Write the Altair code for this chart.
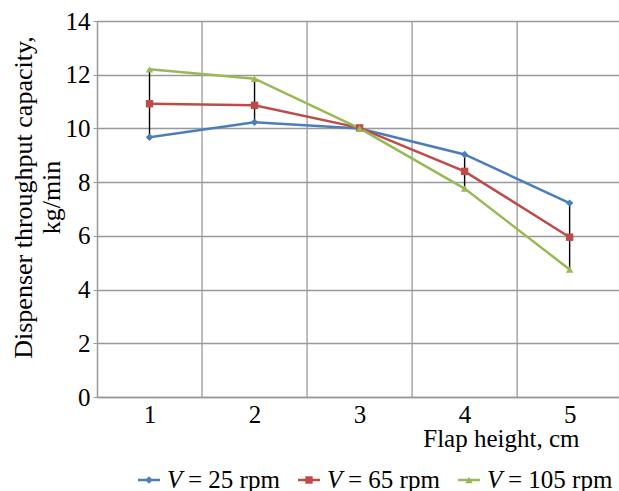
import altair as alt
import pandas as pd

heights = [1, 2, 3, 4, 5]
series = ["V = 25 rpm", "V = 65 rpm", "V = 105 rpm"]
legend_var = ["V", "V", "V"]
legend_rest = ["= 25 rpm", "= 65 rpm", "= 105 rpm"]
v25 = [9.67, 10.23, 10.0, 9.03, 7.22]
v65 = [10.92, 10.86, 10.02, 8.40, 5.95]
v105 = [12.2, 11.85, 10.0, 7.76, 4.75]
colors = ["#4A7EBB", "#BE4B48", "#98B954"]
shapes = ["diamond", "square", "triangle-up"]
y_ticks = [0, 2, 4, 6, 8, 10, 12, 14]
grid_x = [1.5, 2.5, 3.5, 4.5]

rows = []
for s, vals in zip(series, [v25, v65, v105]):
    for h, v in zip(heights, vals):
        rows.append({"h": h, "val": v, "series": s})
df = pd.DataFrame(rows)
rng = pd.DataFrame({
    "h": heights,
    "lo": [min(t) for t in zip(v25, v65, v105)],
    "hi": [max(t) for t in zip(v25, v65, v105)],
})
gdf = pd.DataFrame({"g": grid_x})
ldf = pd.DataFrame({"series": series, "v": legend_var, "rest": legend_rest})

FONT = "Liberation Serif"
xs = alt.Scale(domain=[0.5, 5.47], nice=False, zero=False)
ys = alt.Scale(domain=[0, 14], nice=False)
cscale = alt.Scale(domain=series, range=colors)
sscale = alt.Scale(domain=series, range=shapes)

x_axis = alt.Axis(
    values=heights, format="d", grid=False, title="Flap height, cm",
    labelPadding=5, tickSize=0,
    titleAnchor="end", titleAlign="right", titleX=482, titleY=29,
)
y_axis = alt.Axis(
    values=y_ticks, format="d", grid=True,
    title=["Dispenser throughput capacity,", "kg/min"],
    tickSize=4, labelPadding=3, titlePadding=1, titleY=176,
)

X = alt.X("h:Q", scale=xs, axis=x_axis)
C = alt.Color("series:N", scale=cscale, legend=None)

vgrid = alt.Chart(gdf).mark_rule(color="#999999", strokeWidth=1.3).encode(
    x=alt.X("g:Q", scale=xs, axis=x_axis),
)
lines = alt.Chart(df).mark_line(strokeWidth=2.5).encode(
    x=X, y=alt.Y("val:Q", scale=ys, axis=y_axis), color=C,
)
hilo = alt.Chart(rng).mark_rule(color="black", strokeWidth=1.4).encode(
    x=X, y=alt.Y("lo:Q", scale=ys, axis=y_axis), y2="hi:Q",
)
points = alt.Chart(df).mark_point(filled=True, size=55, opacity=1).encode(
    x=X, y=alt.Y("val:Q", scale=ys, axis=y_axis), color=C,
    shape=alt.Shape("series:N", scale=sscale, legend=None),
)
main = alt.layer(vgrid, lines, hilo, points)

# hand-built legend (line + marker + italic V); point scale keeps default half-step padding
LX = alt.X("series:N", scale=alt.Scale(domain=series, range=[-28, 452]), axis=None)
LY = alt.value(459)
lseg = alt.Chart(ldf).mark_rule(strokeWidth=2.5, xOffset=-11, x2Offset=11).encode(
    x=LX, x2=alt.X2("series:N"), y=LY, color=C,
)
lpts = alt.Chart(ldf).mark_point(filled=True, size=55, opacity=1).encode(
    x=LX, y=LY, color=C, shape=alt.Shape("series:N", scale=sscale, legend=None),
)
lv = alt.Chart(ldf).mark_text(
    align="left", baseline="middle", dx=18, fontStyle="italic", fontSize=25,
    font=FONT, color="black",
).encode(x=LX, y=LY, text="v:N")
lrest = alt.Chart(ldf).mark_text(
    align="left", baseline="middle", dx=39, fontSize=25, font=FONT, color="black",
).encode(x=LX, y=LY, text="rest:N")
leg = alt.layer(lseg, lpts, lv, lrest)

chart = alt.layer(main, leg).resolve_scale(x="independent").properties(
    width=522, height=376,
    autosize=alt.AutoSizeParams(type="none"),
    padding={"left": 97, "top": 21, "right": 0, "bottom": 94},
).configure_view(stroke=None).configure_axis(
    labelFont=FONT, titleFont=FONT, labelFontSize=25, titleFontSize=25,
    titleFontWeight="normal", labelColor="black", titleColor="black",
    domainColor="#999999", domainWidth=1.5, gridColor="#999999", gridWidth=1.3,
    tickColor="#999999",
).configure_axisLeft(titleFontSize=26)

chart.save("out.html", embed_options={"renderer": "svg", "actions": False})
